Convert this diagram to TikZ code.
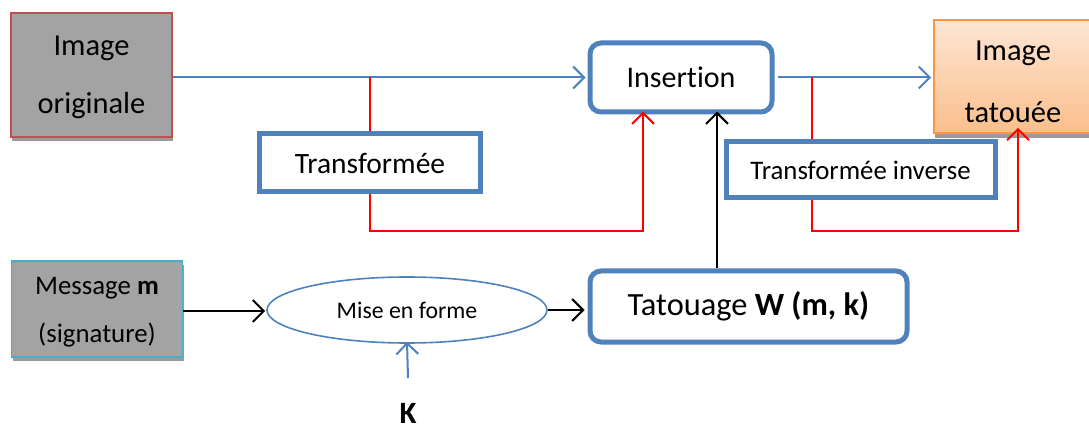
\documentclass[tikz,border=0pt]{standalone}
\usepackage{fontspec}
\setmainfont{Carlito}[Ligatures=NoCommon]
\usetikzlibrary{arrows.meta,shapes.geometric,shadows}

\definecolor{boxblue}{HTML}{4F81BD}
\definecolor{boxred}{HTML}{C0504D}
\definecolor{lineblue}{HTML}{4BACC6}
\definecolor{boxorange}{HTML}{F79646}
\definecolor{peachtop}{HTML}{FDE6D4}
\definecolor{peachbot}{HTML}{FBBE8C}
\definecolor{greyfill}{HTML}{A3A3A3}
\definecolor{greyshadow}{HTML}{9A9A9A}

\tikzset{
  txt/.style={font=\fontsize{30}{57}\selectfont, align=center, text=black},
  greybox/.style={draw, line width=1.6pt, fill=greyfill, inner sep=0pt,
    drop shadow={shadow xshift=1pt, shadow yshift=-4pt, fill=greyshadow, opacity=1}},
  bluebox/.style={draw=boxblue, line width=5pt, fill=white, inner sep=0pt},
  tip/.style={-{Straight Barb[length=11pt,width=22pt,line width=2pt]}},
  bluearrow/.style={draw=boxblue, line width=2pt, tip},
  redline/.style={draw=red, line width=2pt},
  blackarrow/.style={draw=black, line width=2.4pt, tip},
}

\begin{document}
\begin{tikzpicture}[x=1pt,y=-1pt]
\useasboundingbox (0,0) rectangle (1089,430);

% source and marked images
\node[greybox, draw=boxred, minimum width=161pt, minimum height=124pt,
  label={[txt, font=\fontsize{30.5}{58}\selectfont, yshift=-2.5pt]center:Image\\originale}]
  (orig) at (91.5,75) {};
\node[draw=boxorange, line width=1.6pt, top color=peachtop, bottom color=peachbot,
  minimum width=158pt, minimum height=113pt, inner sep=0pt,
  drop shadow={shadow xshift=1pt, shadow yshift=-5pt, fill=greyshadow, opacity=1},
  label={[txt, font=\fontsize{30.5}{62}\selectfont, yshift=-5pt]center:Image\\tatouée}]
  (tat) at (1013,76.5) {};

% processing blocks
\node[bluebox, minimum width=221pt, minimum height=58pt, txt, font=\fontsize{29.5}{34}\selectfont]
  (tr) at (370,163) {Transformée};
\node[bluebox, minimum width=269pt, minimum height=56pt, txt, font=\fontsize{26.8}{32}\selectfont]
  (inv) at (860.5,170) {Transformée inverse};
\node[bluebox, rounded corners=11pt, minimum width=182pt, minimum height=69pt, txt]
  (ins) at (681,77.5) {Insertion};
\node[bluebox, rounded corners=11pt, minimum width=317pt, minimum height=71pt, txt,
  font=\fontsize{32.4}{38}\selectfont]
  (tw) at (748.5,306.5) {Tatouage \textbf{W (m, k)}};

% message and shaping
\node[greybox, draw=lineblue, minimum width=171pt, minimum height=96pt,
  label={[txt, font=\fontsize{26.8}{48}\selectfont, yshift=-3pt]center:Message \textbf{m}\\(signature)}]
  (msg) at (97,309) {};
\node[ellipse, draw=boxblue, line width=1.6pt, minimum width=280pt, minimum height=66pt,
  inner sep=0pt, txt, font=\fontsize{23.8}{28}\selectfont]
  (ell) at (407,310) {Mise en forme};
\node[font=\fontsize{31}{33}\selectfont\bfseries, inner sep=0pt, text depth=0pt, anchor=base]
  (key) at (408,423) {K};
\coordinate (kin) at (408,378);

% routing points
\coordinate (r1) at (643,231);
\coordinate (r2) at (812,77.5);
\coordinate (r3) at (1018,231);
\coordinate (bx) at (717,0);
\coordinate (my) at (0,311);

% main image path
\draw[bluearrow] (orig.east |- ins.west) -- ([xshift=-2pt]ins.west);
\draw[bluearrow] ([xshift=3pt]ins.east) -- ([xshift=-2pt]tat.west |- ins.east);

% transform branches
\draw[redline] (tr.north |- ins.west) -- (tr.north);
\draw[redline, tip] (tr.south) |- (r1) -- ([yshift=3pt]r1 |- ins.south);
\draw[redline] (r2) -- (r2 |- inv.north);
\draw[redline, tip] (r2 |- inv.south) |- (r3) -- ([yshift=6pt]r3 |- tat.south);

% watermark path
\draw[blackarrow] (bx |- tw.north) -- ([yshift=3pt]bx |- ins.south);
\draw[blackarrow] (msg.east |- my) -- ([xshift=-1pt]ell.west |- my);
\draw[blackarrow] (ell.east) -- ([xshift=-3pt]tw.west |- ell.east);
\draw[bluearrow] (kin) -- ([yshift=2pt]ell.south);
\end{tikzpicture}
\end{document}
